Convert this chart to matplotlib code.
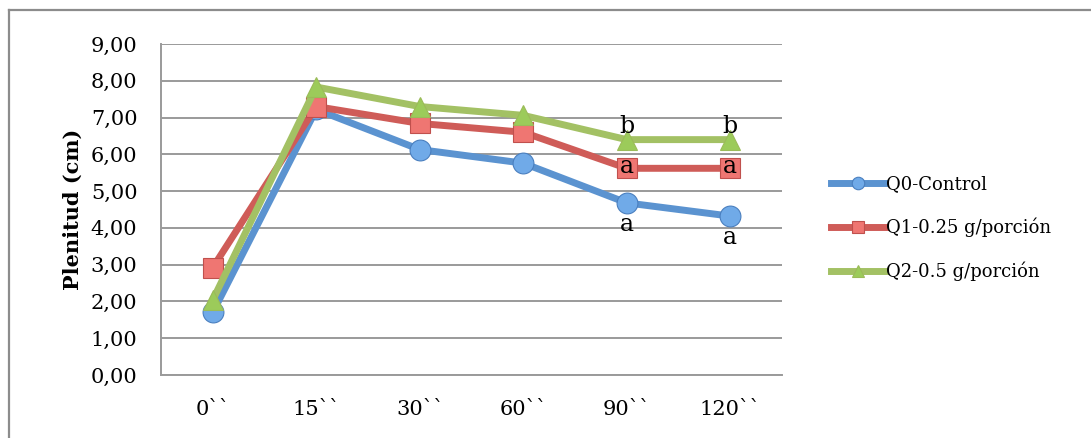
import matplotlib
matplotlib.use("Agg")
import matplotlib.pyplot as plt
from matplotlib.lines import Line2D

categories = ["0``", "15``", "30``", "60``", "90``", "120``"]
q0 = [1.70, 7.22, 6.13, 5.76, 4.68, 4.32]
q1 = [2.92, 7.30, 6.84, 6.60, 5.62, 5.62]
q2 = [2.04, 7.83, 7.30, 7.06, 6.40, 6.40]
series_names = ["Q0-Control", "Q1-0.25 g/porción", "Q2-0.5 g/porción"]
yticks = [0, 1, 2, 3, 4, 5, 6, 7, 8, 9]
ytick_labels = ["0,00", "1,00", "2,00", "3,00", "4,00", "5,00", "6,00", "7,00", "8,00", "9,00"]
letters_q2 = {4: "b", 5: "b"}
letters_q1 = {4: "a", 5: "a"}
letters_q0 = {4: "a", 5: "a"}

plt.rcParams['font.family'] = ['DejaVu Serif']

fig = plt.figure(figsize=(10.91, 4.38), dpi=100)
ax = fig.add_axes([161/1091, 1-375/438, (782-161)/1091, (375-44)/438])

x = list(range(len(categories)))
styles = [
    (q0, "#4a7fbf", "#5b93d0", "o", "#70aae8"),
    (q1, "#c0504d", "#cf5c58", "s", "#ef7672"),
    (q2, "#9bbb59", "#a3c164", "^", "#9ccb5a"),
]
for (vals, ec, lc, mk, fc), name in zip(styles, series_names):
    ax.plot(x, vals, color=lc, lw=5, marker=mk, markersize=15 if mk != "s" else 14,
            markerfacecolor=fc, markeredgecolor=ec, markeredgewidth=0.8,
            label=name, zorder=3, solid_joinstyle='round')

for i, t in letters_q2.items():
    ax.text(i, q2[i] + 0.05, t, ha="center", va="bottom", fontsize=17, zorder=5)
for i, t in letters_q1.items():
    ax.text(i, q1[i] + 0.04, t, ha="center", va="center", fontsize=17, zorder=5)
for i, t in letters_q0.items():
    ax.text(i, q0[i] - 0.28, t, ha="center", va="top", fontsize=17, zorder=5)

ax.set_xlim(-0.5, len(categories) - 0.5)
ax.set_ylim(0, 9)
ax.set_yticks(yticks)
ax.set_yticklabels(ytick_labels, fontsize=15)
ax.set_xticks(x)
ax.set_xticklabels(categories, fontsize=15)
ax.tick_params(axis='both', length=0)
ax.tick_params(axis='y', pad=17)
ax.tick_params(axis='x', pad=18)
ax.grid(axis='y', color='#9a9a9a', lw=1.4, zorder=0)
ax.set_axisbelow(True)
for s in ["top", "right"]:
    ax.spines[s].set_visible(False)
for s in ["left", "bottom"]:
    ax.spines[s].set_color('#9a9a9a')
    ax.spines[s].set_linewidth(1.4)

ax.set_ylabel("Plenitud (cm)", fontsize=15, fontweight='bold', labelpad=6)

leg = ax.legend(loc="center left", bbox_to_anchor=(824/1091, 1-228/438),
                bbox_transform=fig.transFigure, frameon=False, fontsize=13,
                handlelength=3.0, handletextpad=0.05, labelspacing=1.35, borderaxespad=0)
for h in leg.legend_handles:
    h.set_markersize(9)

# outer chart frame
fig.add_artist(Line2D([9/1091, 1.0], [1-10/438, 1-10/438], transform=fig.transFigure,
                      color='#8c8c8c', lw=1.6))
fig.add_artist(Line2D([9/1091, 9/1091], [0.0, 1-10/438], transform=fig.transFigure,
                      color='#8c8c8c', lw=1.6))

fig.savefig("out.png", dpi=100)
